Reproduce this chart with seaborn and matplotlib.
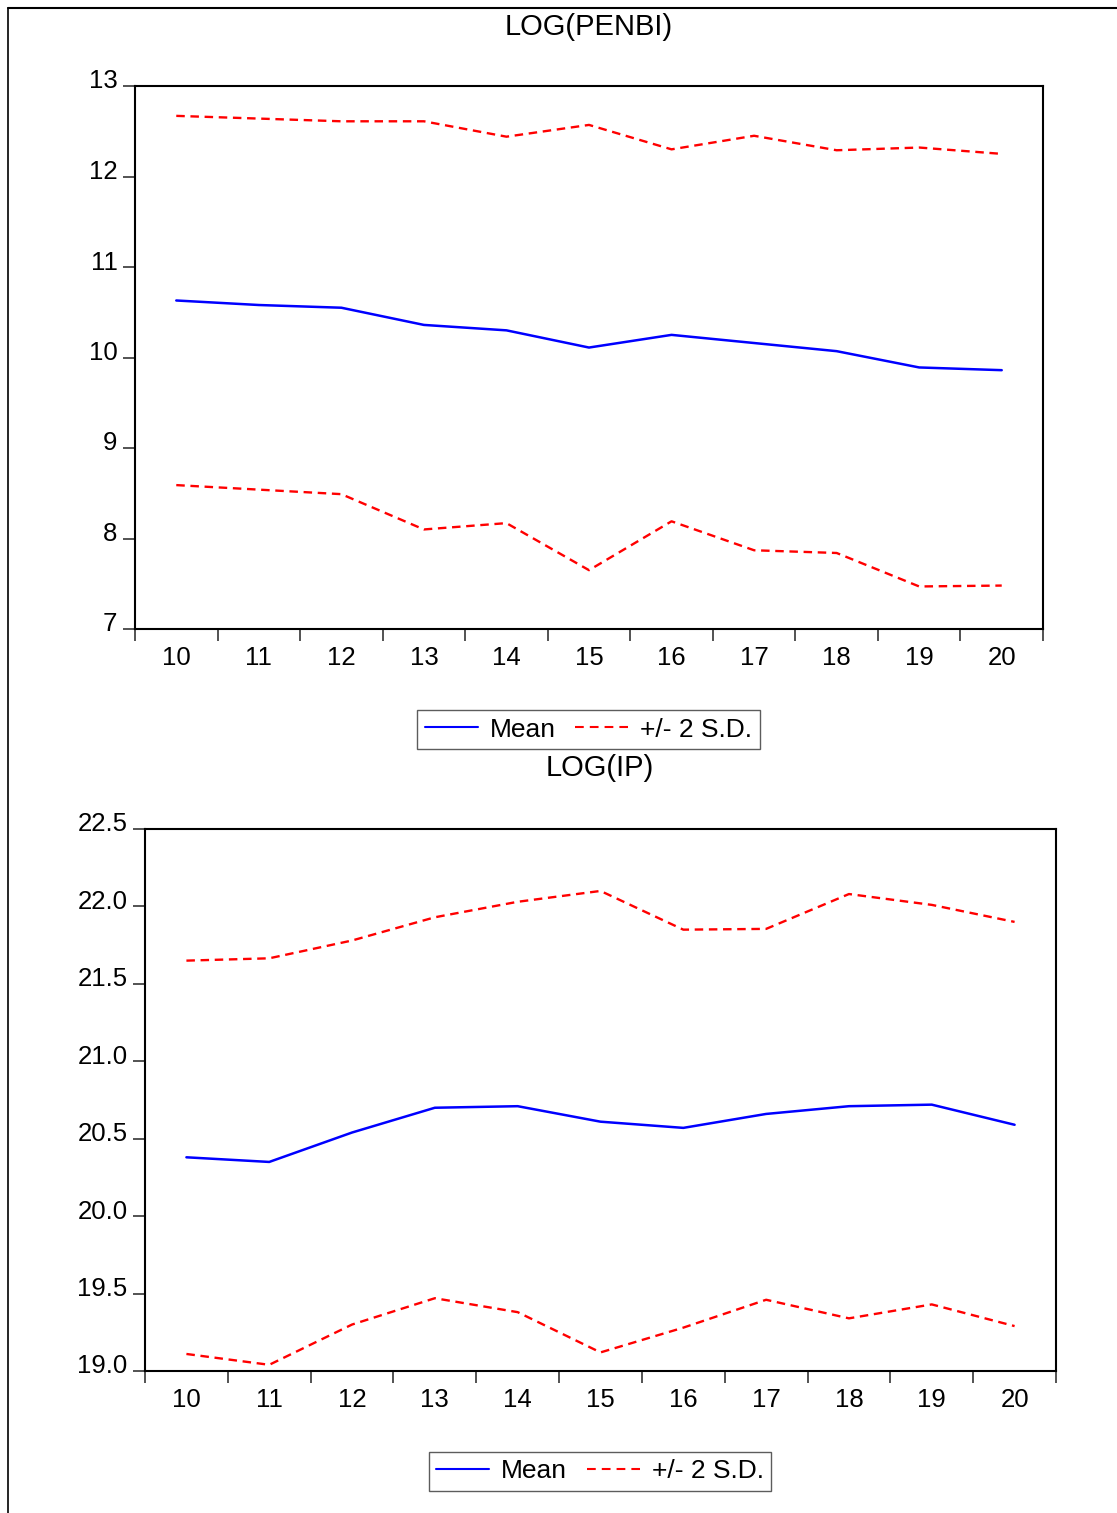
import numpy as np
import pandas as pd
import matplotlib
matplotlib.use("Agg")
import matplotlib.pyplot as plt
from matplotlib.lines import Line2D
from matplotlib.ticker import FormatStrFormatter
import matplotlib.transforms as mtransforms
import seaborn as sns

# ---------------- data ----------------
periods = [10, 11, 12, 13, 14, 15, 16, 17, 18, 19, 20]

penbi_mean = [10.63, 10.58, 10.55, 10.36, 10.30, 10.11, 10.25, 10.16, 10.07, 9.89, 9.86]
penbi_upper = [12.67, 12.64, 12.61, 12.61, 12.44, 12.57, 12.30, 12.45, 12.29, 12.32, 12.25]
penbi_lower = [8.59, 8.54, 8.49, 8.10, 8.17, 7.65, 8.19, 7.87, 7.84, 7.47, 7.48]

ip_mean = [20.38, 20.35, 20.54, 20.70, 20.71, 20.61, 20.57, 20.66, 20.71, 20.72, 20.59]
ip_upper = [21.65, 21.665, 21.78, 21.93, 22.03, 22.10, 21.85, 21.855, 22.08, 22.01, 21.90]
ip_lower = [19.11, 19.04, 19.30, 19.47, 19.38, 19.12, 19.28, 19.46, 19.34, 19.43, 19.29]

titles = ["LOG(PENBI)", "LOG(IP)"]
legend_labels = ["Mean", "+/- 2 S.D."]
penbi_yticks = [7, 8, 9, 10, 11, 12, 13]
ip_yticks = [19.0, 19.5, 20.0, 20.5, 21.0, 21.5, 22.0, 22.5]

# ---------------- style ----------------
sns.set_theme(style="white")
plt.rcParams["font.family"] = ["Liberation Sans", "DejaVu Sans"]
plt.rcParams["text.color"] = "black"
plt.rcParams["axes.labelcolor"] = "black"
plt.rcParams["legend.labelcolor"] = "black"

W, H = 1117, 1513
fig = plt.figure(figsize=(W / 100, H / 100), dpi=100)

def px_rect(l, t, r, b):
    return [l / W, 1 - b / H, (r - l) / W, (b - t) / H]

BLUE = "#0000FF"
RED = "#FF0000"
TICKC = "#444444"

def draw_panel(rect, mean, upper, lower, yticks, fmt, title, title_xy, leg_xy):
    ax = fig.add_axes(rect)
    df = pd.DataFrame({"period": periods, "mean": mean, "upper": upper, "lower": lower})
    sns.lineplot(data=df, x="period", y="mean", ax=ax, color=BLUE, lw=1.8)
    sns.lineplot(data=df, x="period", y="upper", ax=ax, color=RED, lw=1.7,
                 dashes=False, linestyle=(0, (3.6, 2.4)))
    sns.lineplot(data=df, x="period", y="lower", ax=ax, color=RED, lw=1.7,
                 dashes=False, linestyle=(0, (3.6, 2.4)))
    ax.set_xlim(9.5, 20.5)
    ax.set_ylim(yticks[0], yticks[-1])
    ax.set_xlabel("")
    ax.set_ylabel("")
    for s in ax.spines.values():
        s.set_visible(True)
        s.set_color("black")
        s.set_linewidth(1.5)
    bounds = np.arange(9.5, 21.0, 1.0)
    ax.set_xticks(bounds)
    ax.set_xticklabels([])
    ax.set_xticks(periods, minor=True)
    ax.set_xticklabels([str(p) for p in periods], minor=True)
    ax.tick_params(axis="x", which="major", direction="out", length=8.6, width=1.3,
                   color=TICKC, bottom=True, top=False)
    ax.tick_params(axis="x", which="minor", length=0, pad=12, labelsize=18.5,
                   labelcolor="black", bottom=True)
    ax.set_yticks(yticks)
    ax.yaxis.set_major_formatter(FormatStrFormatter(fmt))
    ax.tick_params(axis="y", which="major", direction="out", length=8.6, width=1.3,
                   color=TICKC, left=True, right=False, pad=4, labelsize=18.5,
                   labelcolor="black")
    off = mtransforms.ScaledTranslation(0, 4.5 / 100, fig.dpi_scale_trans)
    for lab in ax.get_yticklabels():
        lab.set_verticalalignment("center")
        lab.set_transform(lab.get_transform() + off)
    ax.grid(False)
    fig.text(title_xy[0] / W, 1 - title_xy[1] / H, title, ha="center", va="center",
             fontsize=21, color="black")
    handles = [Line2D([], [], color=BLUE, lw=1.5),
               Line2D([], [], color=RED, lw=1.5, linestyle=(0, (4.2, 2.9)))]
    leg = fig.legend(handles, legend_labels, loc="center",
                     bbox_to_anchor=(leg_xy[0] / W, 1 - leg_xy[1] / H),
                     ncol=2, fontsize=19, frameon=True, fancybox=False,
                     handlelength=2.0, handletextpad=0.45, columnspacing=0.75,
                     borderpad=0.3, borderaxespad=0, labelcolor="black")
    leg.get_frame().set_edgecolor("#333333")
    leg.get_frame().set_linewidth(1.0)
    return ax

draw_panel(px_rect(135, 86, 1043, 629), penbi_mean, penbi_upper, penbi_lower,
           penbi_yticks, "%d", titles[0], (589, 27), (588.5, 729.5))
draw_panel(px_rect(145, 829, 1056, 1371), ip_mean, ip_upper, ip_lower,
           ip_yticks, "%.1f", titles[1], (600, 768), (600, 1471.5))

# outer frame (top and left)
fig.add_artist(Line2D([8 / W, 1.0], [1 - 8 / H, 1 - 8 / H], color="black", lw=1.5,
                      transform=fig.transFigure))
fig.add_artist(Line2D([8 / W, 8 / W], [1 - 8 / H, 0.0], color="black", lw=1.2,
                      transform=fig.transFigure))

fig.savefig("out.png", dpi=100, facecolor="white")
